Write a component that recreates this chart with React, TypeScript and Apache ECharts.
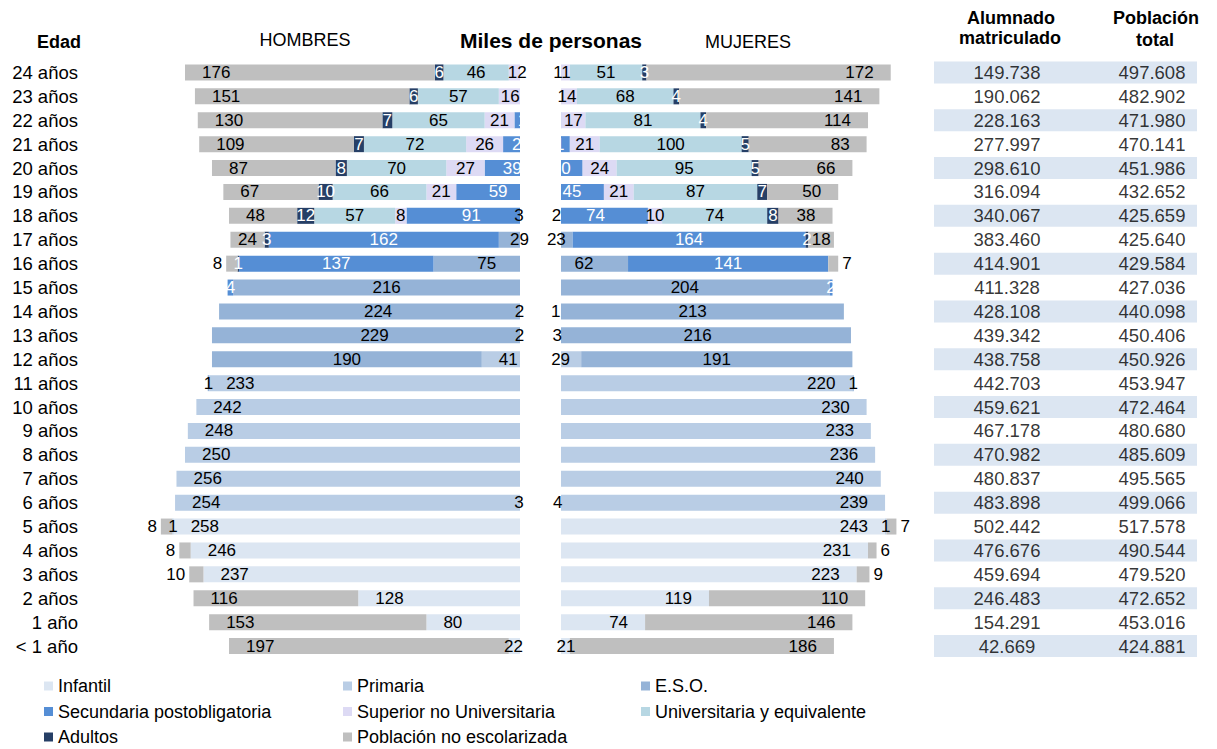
import React, { useEffect, useRef } from 'react';
import * as echarts from 'echarts';

// ---------- DATA ----------
const AGES = [
  '24 años', '23 años', '22 años', '21 años', '20 años', '19 años', '18 años', '17 años',
  '16 años', '15 años', '14 años', '13 años', '12 años', '11 años', '10 años', '9 años',
  '8 años', '7 años', '6 años', '5 años', '4 años', '3 años', '2 años', '1 año', '< 1 año',
];

const SEGMENTS = [
  'Infantil', 'Primaria', 'E.S.O.', 'Secundaria postobligatoria',
  'Superior no Universitaria', 'Universitaria y equivalente', 'Adultos', 'Población no escolarizada',
];

// Hombres (miles de personas), ages top (24) to bottom (<1)
const H_INFANTIL = [0, 0, 0, 0, 0, 0, 0, 0, 0, 0, 0, 0, 0, 0, 0, 0, 0, 0, 3, 258, 246, 237, 128, 80, 22];
const H_PRIMARIA = [0, 0, 0, 0, 0, 0, 0, 0, 0, 0, 2, 2, 41, 233, 242, 248, 250, 256, 254, 1, 0, 0, 0, 0, 0];
const H_ESO = [0, 0, 0, 0, 0, 0, 3, 29, 75, 216, 224, 229, 190, 1, 0, 0, 0, 0, 0, 0, 0, 0, 0, 0, 0];
const H_SECPOST = [10, 13, 18, 26, 39, 59, 91, 162, 137, 4, 0, 0, 0, 0, 0, 0, 0, 0, 0, 0, 0, 0, 0, 0, 0];
const H_SUPERIOR = [12, 16, 21, 26, 27, 21, 8, 0, 0, 0, 0, 0, 0, 0, 0, 0, 0, 0, 0, 0, 0, 0, 0, 0, 0];
const H_UNIV = [46, 57, 65, 72, 70, 66, 57, 0, 0, 0, 0, 0, 0, 0, 0, 0, 0, 0, 0, 0, 0, 0, 0, 0, 0];
const H_ADULTOS = [6, 6, 7, 7, 8, 10, 12, 3, 1, 0, 0, 0, 0, 0, 0, 0, 0, 0, 0, 0, 0, 0, 0, 0, 0];
const H_NOESC = [176, 151, 130, 109, 87, 67, 48, 24, 8, 0, 0, 0, 0, 0, 0, 0, 0, 0, 0, 8, 8, 10, 116, 153, 197];

// Mujeres
const M_INFANTIL = [0, 0, 0, 0, 0, 0, 0, 0, 0, 0, 0, 0, 0, 0, 0, 0, 0, 0, 4, 243, 231, 223, 119, 74, 21];
const M_PRIMARIA = [0, 0, 0, 0, 0, 0, 0, 0, 0, 0, 1, 3, 29, 220, 230, 233, 236, 240, 239, 1, 0, 0, 0, 0, 0];
const M_ESO = [0, 0, 0, 0, 0, 0, 2, 23, 62, 204, 213, 216, 191, 1, 0, 0, 0, 0, 0, 0, 0, 0, 0, 0, 0];
const M_SECPOST = [10, 12, 15, 21, 30, 45, 74, 164, 141, 2, 0, 0, 0, 0, 0, 0, 0, 0, 0, 0, 0, 0, 0, 0, 0];
const M_SUPERIOR = [11, 14, 17, 21, 24, 21, 10, 0, 0, 0, 0, 0, 0, 0, 0, 0, 0, 0, 0, 0, 0, 0, 0, 0, 0];
const M_UNIV = [51, 68, 81, 100, 95, 87, 74, 0, 0, 0, 0, 0, 0, 0, 0, 0, 0, 0, 0, 0, 0, 0, 0, 0, 0];
const M_ADULTOS = [3, 4, 4, 5, 5, 7, 8, 2, 0, 0, 0, 0, 0, 0, 0, 0, 0, 0, 0, 0, 0, 0, 0, 0, 0];
const M_NOESC = [172, 141, 114, 83, 66, 50, 38, 18, 7, 0, 0, 0, 0, 0, 0, 0, 0, 0, 0, 7, 6, 9, 110, 146, 186];

// Tabla (personas)
const ALUMNADO = [
  149738, 190062, 228163, 277997, 298610, 316094, 340067, 383460, 414901, 411328, 428108, 439342,
  438758, 442703, 459621, 467178, 470982, 480837, 483898, 502442, 476676, 459694, 246483, 154291, 42669,
];
const POBLACION = [
  497608, 482902, 471980, 470141, 451986, 432652, 425659, 425640, 429584, 427036, 440098, 450406,
  450926, 453947, 472464, 480680, 485609, 495565, 499066, 517578, 490544, 479520, 472652, 453016, 424881,
];

// ---------- STYLE / LAYOUT ----------
const COLORS = ['#DCE6F2', '#B9CDE5', '#95B3D7', '#558ED5', '#DDDAF4', '#B7D7E3', '#263F66', '#BFBFBF'];
const WHITE_LABEL = [false, false, false, true, false, false, true, false];
const FONT = 'Liberation Sans, Arial, sans-serif';
const W = 1217;
const H = 749;
const ZERO_X = 540;
const PX_PER_K = 1.42;
const GAP_L = 520;
const GAP_R = 561;
const GRID_L = 100;
const GRID_R = 925;
const GRID_TOP = 60.5;
const GRID_H = 597.5;
const TABLE_L = 934;
const TABLE_W = 263;
const TABLE_COL_X = [73, 218];
const LABEL_FS = 17;
const STRIPE_COLOR = '#DCE6F2';

const H_DATA = [H_INFANTIL, H_PRIMARIA, H_ESO, H_SECPOST, H_SUPERIOR, H_UNIV, H_ADULTOS, H_NOESC];
const M_DATA = [M_INFANTIL, M_PRIMARIA, M_ESO, M_SECPOST, M_SUPERIOR, M_UNIV, M_ADULTOS, M_NOESC];

const fmtThousands = (n: number) => {
  const k = Math.floor(n / 1000);
  const r = n % 1000;
  return k + '.' + String(r).padStart(3, '0');
};

function labelFor(side: 'H' | 'M', arrs: number[][], s: number, i: number, v: number) {
  const row = arrs.map((a) => a[i]);
  const first = row.findIndex((x) => x > 0);
  let last = -1;
  row.forEach((x, k) => { if (x > 0) last = k; });
  const isH = side === 'H';
  const label: any = { show: v > 0 };

  // white labels that fall entirely inside the blank central gap are invisible: skip them
  if (WHITE_LABEL[s] && v > 0) {
    const before = row.slice(0, s).reduce((a, b) => a + b, 0);
    const mid = (before + v / 2) * PX_PER_K;
    const cx = isH ? ZERO_X - mid : ZERO_X + mid;
    const half = (String(v).length * LABEL_FS * 0.556) / 2;
    if (cx - half >= GAP_L && cx + half <= GAP_R) label.show = false;
  }

  if (s === first && v < 6) {
    label.position = 'inside';
    label.offset = [isH ? -19 : 15, 0];
  } else if (s === first && s === 0 && v < 30) {
    label.position = 'inside';
    label.offset = [isH ? -11 : 11, 0];
  } else if (s === last && s === 7 && v < 12) {
    label.position = isH ? 'left' : 'right';
    label.distance = 4;
  } else if ((s === 0 || s === 1 || s === 7) && v >= 30) {
    label.position = isH ? 'insideLeft' : 'insideRight';
    label.distance = 17;
  } else {
    label.position = 'inside';
  }
  return label;
}

function buildSide(side: 'H' | 'M', overlay: boolean) {
  const arrs = side === 'H' ? H_DATA : M_DATA;
  const sign = side === 'H' ? -1 : 1;
  return SEGMENTS.map((name, s) => {
    const data = arrs[s].map((v, i) => {
      const label = labelFor(side, arrs, s, i, v);
      if (!overlay) label.show = false;
      return { value: sign * v, label };
    });
    return {
      type: 'bar',
      name: overlay ? `lbl-${side}-${name}` : name,
      stack: overlay ? 'labels' : 'bars',
      xAxisIndex: 0,
      yAxisIndex: 0,
      barWidth: 16,
      barGap: '-100%',
      z: overlay ? 5 : 2,
      silent: true,
      itemStyle: { color: overlay ? 'rgba(0,0,0,0)' : COLORS[s] },
      label: {
        show: overlay,
        fontFamily: FONT,
        fontSize: LABEL_FS,
        color: WHITE_LABEL[s] ? '#FFFFFF' : '#000000',
        formatter: (p: any) => {
          const v = Math.abs(p.value);
          return v > 0 ? String(v) : '';
        },
      },
      data,
    };
  });
}

const headerText = (text: string, x: number, y: number, bold: boolean, size = 18) => ({
  type: 'text',
  x,
  y,
  style: {
    text,
    fill: '#000',
    fontFamily: FONT,
    fontSize: size,
    fontWeight: bold ? 'bold' : 'normal',
    align: 'center',
    verticalAlign: 'middle',
  },
});

export default function App() {
  const ref = useRef<HTMLDivElement>(null);

  useEffect(() => {
    if (!ref.current) return;
    const chart = echarts.init(ref.current, null, { renderer: 'svg' });

    const legendCommon = {
      orient: 'vertical',
      itemWidth: 9,
      itemHeight: 9,
      itemGap: 7.5,
      padding: 0,
      icon: 'rect',
      selectedMode: false,
      textStyle: { fontFamily: FONT, fontSize: 18, color: '#000' },
      top: 677,
    };

    const tableLabel = {
      show: true,
      position: 'inside',
      fontFamily: FONT,
      fontSize: 18.5,
      color: '#000',
      formatter: (p: any) => fmtThousands(p.data[2]),
    };

    const option: any = {
      animation: false,
      backgroundColor: '#ffffff',
      grid: [
        { left: GRID_L, width: GRID_R - GRID_L, top: GRID_TOP, height: GRID_H },
        { left: TABLE_L, width: TABLE_W, top: GRID_TOP, height: GRID_H },
      ],
      xAxis: [
        {
          type: 'value',
          gridIndex: 0,
          min: -(ZERO_X - GRID_L) / PX_PER_K,
          max: (GRID_R - ZERO_X) / PX_PER_K,
          show: false,
          splitLine: { show: false },
        },
        { type: 'value', gridIndex: 1, min: 0, max: TABLE_W, show: false, splitLine: { show: false } },
      ],
      yAxis: [
        {
          type: 'category',
          gridIndex: 0,
          data: AGES,
          inverse: true,
          axisLine: { show: false },
          axisTick: { show: false },
          splitLine: { show: false },
          axisLabel: { interval: 0, fontFamily: FONT, fontSize: 18.5, color: '#000', margin: 22 },
        },
        {
          type: 'category',
          gridIndex: 1,
          data: AGES,
          inverse: true,
          axisLine: { show: false },
          axisTick: { show: false },
          axisLabel: { show: false },
          splitLine: { show: false },
        },
      ],
      legend: [
        { ...legendCommon, left: 44, data: [SEGMENTS[0], SEGMENTS[3], SEGMENTS[6]] },
        { ...legendCommon, left: 343, data: [SEGMENTS[1], SEGMENTS[4], SEGMENTS[7]] },
        { ...legendCommon, left: 641, data: [SEGMENTS[2], SEGMENTS[5]] },
      ],
      graphic: [
        {
          type: 'rect',
          z: 3,
          silent: true,
          shape: { x: GAP_L, y: GRID_TOP - 2, width: GAP_R - GAP_L, height: GRID_H + 4 },
          style: { fill: '#FFFFFF' },
        },
        headerText('Edad', 59, 42, true),
        headerText('HOMBRES', 305, 40, false),
        headerText('Miles de personas', 551, 40, true, 21),
        headerText('MUJERES', 748, 42, false),
        headerText('Alumnado', 1011, 18, true),
        headerText('matriculado', 1010, 38, true),
        headerText('Población', 1156, 18, true),
        headerText('total', 1155, 40, true),
      ],
      series: [
        ...buildSide('H', false),
        ...buildSide('M', false),
        ...buildSide('H', true),
        ...buildSide('M', true),
        {
          type: 'bar',
          name: 'stripes',
          xAxisIndex: 1,
          yAxisIndex: 1,
          barWidth: 22,
          silent: true,
          itemStyle: { color: STRIPE_COLOR },
          data: AGES.map((_, i) => (i % 2 === 0 ? TABLE_W : 0)),
          z: 1,
        },
        {
          type: 'scatter',
          name: 'Alumnado matriculado',
          xAxisIndex: 1,
          yAxisIndex: 1,
          symbolSize: 1,
          itemStyle: { color: 'rgba(0,0,0,0)' },
          label: tableLabel,
          data: AGES.map((a, i) => [TABLE_COL_X[0], a, ALUMNADO[i]]),
          z: 4,
        },
        {
          type: 'scatter',
          name: 'Población total',
          xAxisIndex: 1,
          yAxisIndex: 1,
          symbolSize: 1,
          itemStyle: { color: 'rgba(0,0,0,0)' },
          label: tableLabel,
          data: AGES.map((a, i) => [TABLE_COL_X[1], a, POBLACION[i]]),
          z: 4,
        },
      ],
    };

    chart.setOption(option);
    return () => chart.dispose();
  }, []);

  return (
    <div
      ref={ref}
      style={{ position: 'fixed', left: 0, top: 0, width: W, height: H, background: '#fff' }}
    />
  );
}
